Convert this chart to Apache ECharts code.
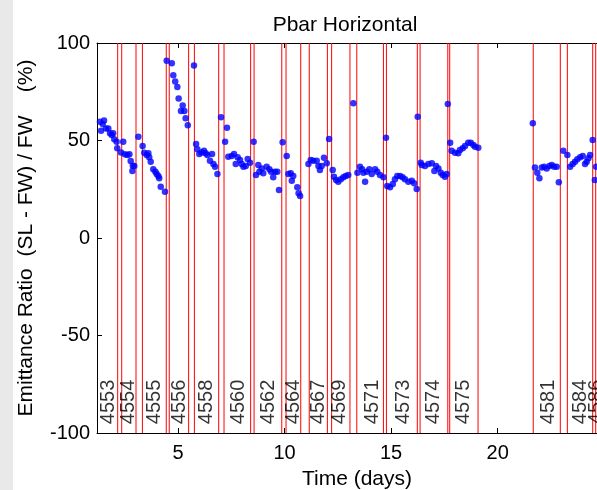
<!DOCTYPE html>
<html>
<head>
<meta charset="utf-8">
<script src="https://cdn.jsdelivr.net/npm/echarts@6/dist/echarts.min.js"></script>
<style>
html,body{margin:0;padding:0;background:#fff;}
#c{width:597px;height:490px;}
</style>
</head>
<body>
<div id="c"></div>
<script>
// ---- data ----
const days = [1.19,1.34,1.39,1.53,1.47,1.62,1.73,1.81,1.89,1.96,2.01,2.12,2.15,2.33,2.43,2.51,2.62,2.72,2.78,2.88,2.86,2.95,
3.14,3.34,3.42,3.53,3.61,3.65,3.72,3.84,3.94,4.00,4.08,4.12,4.19,4.39,
4.47,4.71,4.78,4.87,4.97,5.03,5.22,5.14,5.30,5.36,5.46,
5.75,5.85,5.91,6.00,6.11,6.22,6.30,6.38,6.50,6.60,6.66,6.74,6.85,
7.02,7.21,7.30,7.36,7.52,7.63,7.71,7.80,7.91,7.99,8.07,8.18,8.27,8.38,
8.55,8.66,8.77,8.82,8.93,9.00,9.16,9.29,9.37,9.47,9.55,9.66,9.74,
9.91,10.10,10.18,10.29,10.34,10.41,10.60,10.66,10.73,
11.12,11.23,11.35,11.51,11.59,11.66,11.74,11.85,11.98,
12.09,12.26,12.32,12.42,12.52,12.64,12.76,12.87,12.99,
13.23,13.42,13.54,13.64,13.78,13.70,13.86,13.98,14.09,14.25,14.35,14.48,14.64,
14.76,14.82,14.95,15.08,15.18,15.29,15.42,15.54,15.65,15.81,15.97,16.08,16.20,
16.25,16.39,16.44,16.59,16.75,16.91,17.03,17.11,17.22,17.33,17.42,17.53,17.61,
17.66,17.77,17.84,18.00,18.15,18.23,18.36,18.47,18.62,18.74,18.86,18.94,19.09,
21.65,21.75,21.86,21.96,22.07,22.18,22.30,22.43,22.54,22.65,22.77,22.87,
23.08,23.27,23.40,23.52,23.63,23.74,23.87,23.99,24.10,24.18,24.26,24.34,
24.46,24.56,24.62];
const ratios = [60.9,59.6,55.0,60.2,58.5,56.2,56.2,53.7,52.8,53.7,50.6,49.4,46.0,43.9,49.4,42.9,42.6,42.9,39.5,37.1,34.4,36.9,
51.9,47.2,43.7,42.6,43.4,41.4,39.1,35.2,34.0,32.8,31.8,30.6,26.3,23.7,
90.9,89.6,83.4,80.3,77.4,71.6,67.9,65.1,65.1,61.4,57.8,
88.4,48.2,45.5,43.1,43.8,44.8,43.4,42.6,39.6,43.1,37.9,36.6,32.8,
61.9,49.4,56.6,41.7,42.1,43.1,37.9,41.4,40.0,37.9,36.6,36.9,40.5,38.6,
49.4,32.3,37.4,34.0,35.7,33.2,36.6,35.2,34.0,31.1,34.0,34.0,24.6,
49.1,42.1,32.8,33.2,29.4,31.8,26.0,22.9,21.5,
37.9,40.0,39.6,39.6,36.9,34.9,36.9,41.2,38.3,
50.8,34.9,31.4,29.7,28.9,30.1,31.1,31.8,32.3,
69.1,33.5,36.6,35.2,28.9,33.5,34.0,35.2,32.8,35.2,34.0,32.3,31.1,
51.4,26.7,26.0,27.7,30.1,31.8,31.8,31.1,30.1,28.9,29.4,28.1,25.1,
62.2,38.6,37.4,36.9,37.9,38.3,34.4,36.9,35.7,33.5,32.3,31.4,32.8,
68.7,48.9,44.8,43.7,43.4,45.1,46.0,47.2,48.9,48.9,47.7,46.8,46.3,
58.8,36.2,33.5,30.6,36.2,36.6,35.7,36.9,37.4,36.6,36.6,28.6,
44.8,42.6,36.6,37.9,39.1,40.4,41.4,42.1,37.9,39.1,40.9,42.6,
50.3,29.7,36.6];
const boundaryDays = [2.17,2.36,3.03,3.33,4.45,4.59,5.50,5.77,6.91,7.16,8.41,8.57,9.87,10.07,10.76,11.16,
12.01,12.21,13.07,13.39,14.64,14.78,16.23,16.36,17.66,17.75,19.08,21.67,22.94,23.27,24.46,24.60];
const storeNames = ['4553','4554','4555','4556','4558','4560','4562','4564','4567','4569','4571','4573','4574','4575','4581','4584','4586'];
const storeLabelDays = [1.73,2.70,3.92,5.09,6.35,7.83,9.27,10.41,11.58,12.60,14.12,15.57,17.01,18.39,22.38,23.87,24.62];
const storeLabelLevel = -95.5;
const xTicks = [5,10,15,20];
const yTicks = [-100,-50,0,50,100];

// ---- chart ----
const FONT = "'Liberation Sans', Arial, sans-serif";
const chart = echarts.init(document.getElementById('c'), null, {renderer:'canvas'});
const points = days.map((d,i)=>[d, ratios[i]]);
const labelPts = storeLabelDays.map((d,i)=>({value:[d, storeLabelLevel], name: storeNames[i]}));
const yMin = yTicks[0], yMax = yTicks[yTicks.length-1];

chart.setOption({
  animation:false,
  backgroundColor:'#fff',
  graphic:[{type:'rect', left:0, top:0, shape:{width:13,height:490}, style:{fill:'#e9e9e9'}, z:-1}],
  title:{text:'Pbar Horizontal', left:340, top:10, textAlign:'center',
    textStyle:{fontFamily:FONT,fontSize:21,fontWeight:'normal',color:'#000'}},
  grid:{left:97, top:43, width:520, height:390, containLabel:false, outerBoundsMode:'none'},
  xAxis:[{
    type:'value', min:1.2, max:25.6, position:'bottom',
    name:'Time (days)', nameLocation:'middle', nameGap:36,
    nameTextStyle:{fontFamily:FONT,fontSize:21,color:'#000'},
    axisLine:{onZero:false, lineStyle:{color:'#000',width:1}},
    axisTick:{inside:true,length:5,customValues:xTicks,lineStyle:{color:'#000'}},
    axisLabel:{customValues:xTicks, margin:10, fontFamily:FONT,fontSize:20,color:'#000'},
    splitLine:{show:false}
  },{
    type:'value', min:1.2, max:25.6, position:'top',
    axisLine:{onZero:false, lineStyle:{color:'#000',width:1}},
    axisTick:{inside:true,length:5,customValues:xTicks,lineStyle:{color:'#000'}},
    axisLabel:{show:false}, splitLine:{show:false}
  }],
  yAxis:[{
    type:'value', min:yMin, max:yMax, interval:50,
    name:'Emittance Ratio  (SL - FW) / FW    (%)', nameLocation:'middle', nameGap:60,
    nameTextStyle:{fontFamily:FONT,fontSize:21,color:'#000'},
    axisLine:{onZero:false, lineStyle:{color:'#000',width:1}},
    axisTick:{inside:true,length:5,lineStyle:{color:'#000'}},
    axisLabel:{margin:7, fontFamily:FONT,fontSize:20,color:'#000'},
    splitLine:{show:false}
  }],
  series:[{
    type:'custom', data:boundaryDays.map(d=>[d]), z:2, silent:true,
    encode:{x:0},
    renderItem:(params, api)=>{
      const x = api.value(0);
      const p1 = api.coord([x, yMin]);
      const p2 = api.coord([x, yMax]);
      return {type:'line', shape:{x1:p1[0], y1:p1[1], x2:p2[0], y2:p2[1]},
        style:{stroke:'#ff0000', lineWidth:1}};
    }
  },{
    type:'scatter', data:points, symbol:'circle', symbolSize:6.5,
    itemStyle:{color:'#0000ff'}, z:3
  },{
    type:'scatter', data:labelPts, symbolSize:0, z:4,
    label:{show:true, position:'inside', rotate:90, align:'left', verticalAlign:'middle',
      formatter:p=>p.name, fontFamily:FONT, fontSize:20, color:'#000'}
  }]
});
</script>
</body>
</html>
